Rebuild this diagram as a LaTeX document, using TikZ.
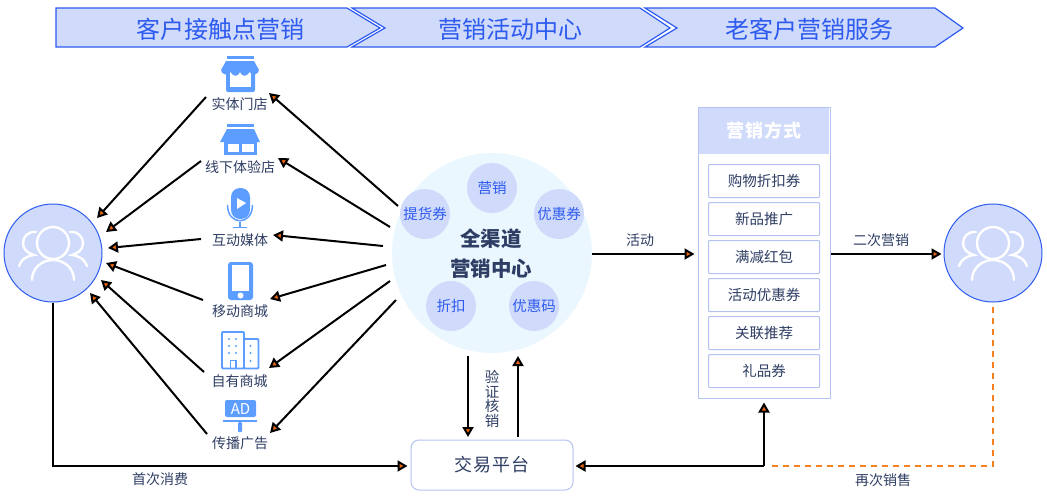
\documentclass[tikz,border=0pt]{standalone}
\usepackage{fontspec}
\setmainfont{Noto Sans CJK SC}
\usetikzlibrary{arrows.meta}
\definecolor{lightfill}{HTML}{D0DAFB}
\definecolor{strongblue}{HTML}{2D5BEF}
\definecolor{hubfill}{HTML}{EBF7FF}
\definecolor{iconblue}{HTML}{5C9DFF}
\definecolor{edgeblue}{HTML}{B4C3F0}
\definecolor{inktext}{HTML}{2E3D63}
\definecolor{dashorange}{HTML}{F5821F}
\definecolor{tiporange}{HTML}{E8660C}
\tikzset{
  x=1pt,y=-1pt,
  chev/.style={draw=strongblue,fill=lightfill,line width=1.2pt,line join=miter},
  headtext/.style={text=strongblue,font=\fontsize{24}{28}\selectfont,inner sep=0pt},
  lab/.style={text=inktext,font=\fontsize{14}{16}\selectfont,inner sep=0pt},
  flow/.style={draw=black,line width=2pt,-{Triangle[length=10pt,width=11pt,fill=tiporange,line width=2pt]}},
  dashline/.style={draw=dashorange,line width=2pt,dash pattern=on 6pt off 5pt},
  usercircle/.style={circle,draw=strongblue,fill=lightfill,line width=1pt,minimum size=98pt,inner sep=0pt},
  person/.style={draw=white,line width=2.4pt,line cap=round},
  chip/.style={circle,fill=lightfill,minimum size=50pt,inner sep=0pt,text=strongblue,font=\fontsize{14.5}{16}\selectfont},
  itembox/.style={draw=edgeblue,line width=1pt,fill=white,minimum width=111pt,minimum height=33pt,inner sep=0pt,rounded corners=0.8pt,text=inktext,font=\fontsize{14.5}{16}\selectfont},
  ico/.style={fill=iconblue,draw=none},
}
\newcommand{\peopleglyph}[2]{%
  \begin{scope}[shift={(#1,#2)}]
    \draw[person] (0,-10) circle[radius=16];
    \draw[person] (-21,27) .. controls (-21,15) and (-11,7) .. (0,7) .. controls (11,7) and (21,15) .. (21,27);
    \draw[person] (-17,-21) .. controls (-25,-22) and (-30,-16) .. (-30,-10) .. controls (-30,-4) and (-26,0) .. (-19,2) .. controls (-27,3) and (-32,7) .. (-34,13);
    \draw[person] (17,-21) .. controls (25,-22) and (30,-16) .. (30,-10) .. controls (30,-4) and (26,0) .. (19,2) .. controls (27,3) and (32,7) .. (34,13);
  \end{scope}}
\begin{document}
\begin{tikzpicture}
\useasboundingbox (0,0) rectangle (1047,498);
% header chevrons
\draw[chev] (645,8) -- (935,8) -- (963,28) -- (935,47) -- (645,47) -- (677,28) -- cycle;
\draw[chev] (352,8) -- (640,8) -- (670,28) -- (640,47) -- (352,47) -- (385,28) -- cycle;
\draw[chev] (56,8) -- (347,8) -- (380,28) -- (347,47) -- (56,47) -- cycle;
\node[headtext] (h1) at (220,29) {客户接触点营销};
\node[headtext] (h2) at (510,29) {营销活动中心};
\node[headtext] (h3) at (809,29) {老客户营销服务};
% users
\node[usercircle] (userL) at (53,253) {};
\node[usercircle] (userR) at (993,253) {};
\peopleglyph{53}{253}
\peopleglyph{993}{253}
% icon: store 1
\fill[ico] (227,56) rectangle (254,59);
\fill[ico,rounded corners=2pt] (226,72) rectangle (255,92);
\fill[white] (230,72) rectangle (251,87);
\fill[ico] (226,61) -- (254,61) -- (259,70) .. controls (259,74) and (252,77) .. (249.5,72)
  .. controls (247,77) and (242,77) .. (240,72) .. controls (238,77) and (233,77) .. (230.5,72)
  .. controls (228,77) and (221,74) .. (221,70) -- cycle;
% icon: store 2
\fill[ico] (227,124) rectangle (254,127);
\fill[ico] (227,129) -- (254,129) -- (260,142) -- (220,142) -- cycle;
\fill[ico] (224,142) rectangle (257,155);
\fill[white] (227.5,144) rectangle (239,152);
\fill[white] (242,144) rectangle (253.5,152);
% icon: microphone
\fill[ico,rounded corners=9pt] (231,188) rectangle (250,219);
\fill[white] (237,198) -- (246,203) -- (237,209) -- cycle;
\draw[iconblue,line width=1.5pt] (227.5,205) .. controls (227.5,226) and (252.5,226) .. (252.5,205);
\draw[iconblue,line width=2pt] (240,222) -- (240,227);
\draw[iconblue,line width=1.6pt] (233,227.5) -- (247,227.5);
% icon: phone
\fill[ico,rounded corners=3pt] (228,262) rectangle (253,300);
\fill[white] (232,265) rectangle (249,291);
\fill[white] (240.5,295.5) circle[radius=3];
% icon: buildings
\draw[iconblue,fill=white,line width=1.8pt,rounded corners=1pt] (244,339) rectangle (258.5,368.5);
\draw[iconblue,fill=white,line width=1.8pt,rounded corners=1pt] (222,332) rectangle (244,368.5);
\foreach \px in {229,236}{\foreach \py in {339,346,353}{\fill[iconblue] (\px,\py) circle[radius=1.2];}}
\foreach \py in {346,353,361}{\fill[iconblue] (250.5,\py) circle[radius=1.2];}
\draw[iconblue,line width=1.8pt] (230.5,368.5) -- (230.5,360.5) -- (236,360.5) -- (236,368.5);
% icon: AD board
\fill[ico,rounded corners=2pt] (225,400) rectangle (256,417);
\node[text=white,font=\fontsize{15}{16}\selectfont,inner sep=0pt] (adword) at (240.5,409) {AD};
\fill[ico] (223,420) rectangle (257,422);
\fill[ico,rounded corners=1pt] (238,422) rectangle (242,432);
% channel labels
\node[lab] (c1) at (239.5,104) {实体门店};
\node[lab] (c2) at (240,167) {线下体验店};
\node[lab] (c3) at (240,240) {互动媒体};
\node[lab] (c4) at (240,311) {移动商城};
\node[lab] (c5) at (239.5,381) {自有商城};
\node[lab] (c6) at (240,443) {传播广告};
% hub
\node[circle,fill=hubfill,minimum size=200pt,inner sep=0pt] (hub) at (492,253) {};
\node[chip] (s1) at (492,188) {营销};
\node[chip] (s2) at (425,214) {提货券};
\node[chip] (s3) at (559,214) {优惠券};
\node[chip] (s4) at (451,306) {折扣};
\node[chip] (s5) at (534,306) {优惠码};
\node[text=inktext,font=\fontsize{20.5}{30}\selectfont\bfseries,inner sep=0pt,align=center] (hubtitle) at (491,254) {全渠道\\营销中心};
% trading box
\node[draw=edgeblue,line width=1pt,rounded corners=8pt,minimum width=162pt,minimum height=50pt,inner sep=0pt,text=inktext,font=\fontsize{18}{20}\selectfont\addfontfeature{LetterSpace=7}] (trade) at (492,465) {交易平台};
% panel
\node[draw=edgeblue,line width=1pt,minimum width=132pt,minimum height=291pt,inner sep=0pt] (panel) at (764,252.5) {};
\node[fill=lightfill,minimum width=130pt,minimum height=46pt,inner sep=0pt,text=white,font=\fontsize{18}{20}\selectfont\bfseries\addfontfeature{LetterSpace=6}] (panelhead) at (764,131) {营销方式};
\node[itembox] (m1) at (764,181) {购物折扣券};
\node[itembox] (m2) at (764,219) {新品推广};
\node[itembox] (m3) at (764,257) {满减红包};
\node[itembox] (m4) at (764,295) {活动优惠券};
\node[itembox] (m5) at (764,333) {关联推荐};
\node[itembox] (m6) at (764,371) {礼品券};
% free ends
\coordinate (a1s) at (206,97);  \coordinate (a1e) at (97,218);
\coordinate (a2s) at (201,161); \coordinate (a2e) at (106,232);
\coordinate (a3s) at (201,239); \coordinate (a3e) at (108,248);
\coordinate (a4s) at (203,300); \coordinate (a4e) at (106,263);
\coordinate (a5s) at (204,372); \coordinate (a5e) at (101,280);
\coordinate (a6s) at (207,434); \coordinate (a6e) at (90,293);
\coordinate (b1s) at (398,206); \coordinate (b1e) at (269,93);
\coordinate (b2s) at (390,227); \coordinate (b2e) at (278,158);
\coordinate (b3s) at (383,246); \coordinate (b3e) at (273,235);
\coordinate (b4s) at (386,265); \coordinate (b4e) at (270,299);
\coordinate (b5s) at (390,281); \coordinate (b5e) at (269,368);
\coordinate (b6s) at (396,300); \coordinate (b6e) at (270,433);
\coordinate (v1s) at (468,356); \coordinate (v1e) at (468,437);
\coordinate (v2s) at (518,437); \coordinate (v2e) at (518,356);
\coordinate (midrow) at (0,254);
\coordinate (lowrow) at (0,466);
\coordinate (join) at (764,466);
\coordinate (dashstart) at (772,466);
% connectors
\foreach \n in {1,...,6}{\draw[flow] (a\n s) -- (a\n e); \draw[flow] (b\n s) -- (b\n e);}
\draw[flow] (v1s) -- (v1e);
\draw[flow] (v2s) -- (v2e);
\draw[flow,shorten >=3pt] (hub.east |- midrow) -- (panel.west |- midrow);
\draw[flow,shorten >=2pt] (panel.east |- midrow) -- (userR.west |- midrow);
\draw[flow,shorten >=3pt] (userL.south) -- (userL.south |- lowrow) -- (trade.west |- lowrow);
\draw[flow,shorten >=2pt] (join) -- (trade.east |- lowrow);
\draw[flow,shorten >=4pt] (join) -- (panel.south);
\draw[dashline] (dashstart) -- (userR.south |- lowrow) -- (userR.south);
% connector labels
\node[lab] (t1) at (160,479) {首次消费};
\node[text=inktext,font=\fontsize{14.5}{14.5}\selectfont,align=center,inner sep=0pt] (t2) at (492,399) {验\\证\\核\\销};
\node[lab] (t3) at (640,240) {活动};
\node[lab] (t4) at (881,240) {二次营销};
\node[lab] (t5) at (883,480) {再次销售};
\end{tikzpicture}
\end{document}
